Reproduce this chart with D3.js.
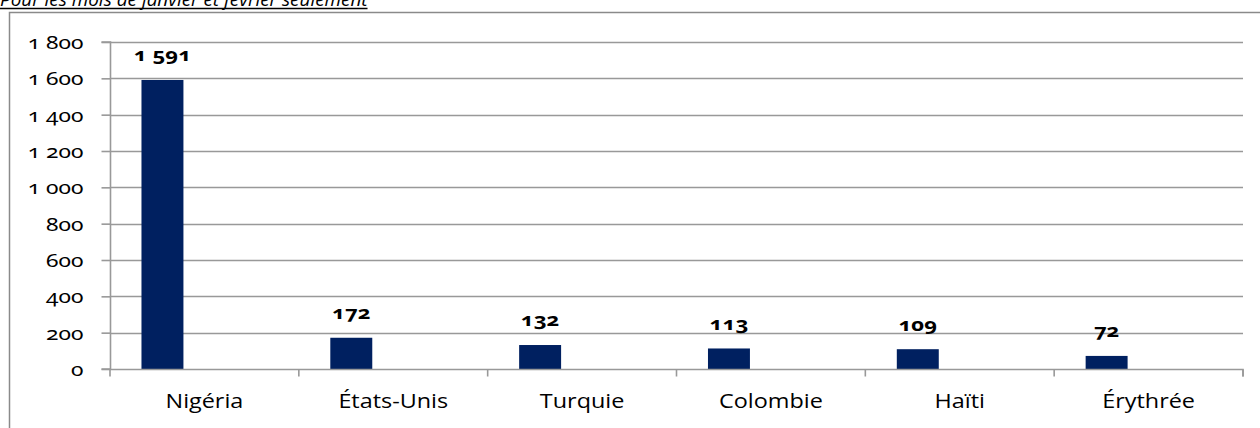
<!DOCTYPE html>
<html><head><meta charset="utf-8">
<script src="https://cdn.jsdelivr.net/npm/d3@7"></script>
<style>
html,body{margin:0;padding:0;background:#fff;}
svg{display:block;}
.num{font-variant-numeric:oldstyle-nums;font-feature-settings:"onum" 1;}
</style></head>
<body><svg id="c" width="1260" height="428"></svg>
<script>
const title = "Pour les mois de janvier et février seulement";
const categories = ["Nigéria","États-Unis","Turquie","Colombie","Haïti","Érythrée"];
const values = [1591,172,132,113,109,72];
const yTicks = [0,200,400,600,800,1000,1200,1400,1600,1800];
const seriesSlots = ["s1","s2","s3"];

(function(){
const svg = d3.select("#c");
const W = 1260, H = 428;
const pL = 110, pR = 1243, pT = 42, pB = 369;
const grid = "#999";
const numFont = "'Noto Sans', 'Open Sans', sans-serif";
const txtFont = "'Open Sans', 'Noto Sans', sans-serif";

// title (cropped at top)
const sxTi = 1.05;
const t = svg.append("text").attr("x", 0).attr("y", 5.5)
  .attr("font-family", txtFont).attr("font-style", "italic")
  .attr("font-size", 18).attr("fill", "#000")
  .attr("transform", `scale(${sxTi},1)`).text(title);
const tl = t.node().getComputedTextLength() * sxTi;
svg.append("line").attr("x1", 0).attr("x2", tl).attr("y1", 8.5).attr("y2", 8.5)
  .attr("stroke", "#000").attr("stroke-width", 1.5);

// chart border
svg.append("path").attr("d", `M9.5,${H} V12.5 H${W}`).attr("fill", "none")
  .attr("stroke", "#8a8a8a").attr("stroke-width", 1.5);

const x = d3.scaleBand().domain(categories).range([pL, pR]).paddingInner(0).paddingOuter(0);
const xs = d3.scaleBand().domain(seriesSlots).range([0, x.bandwidth()]).paddingInner(0).paddingOuter(0.75);
const y = d3.scaleLinear().domain([0, 1800]).range([pB, pT]);

const fmt = v => v >= 1000 ? Math.floor(v/1000) + " " + d3.format("03d")(v % 1000) : String(v);

// gridlines
svg.append("g").selectAll("line").data(yTicks.filter(d => d > 0)).join("line")
  .attr("x1", pL).attr("x2", pR)
  .attr("y1", d => Math.round(y(d)) + 0.5).attr("y2", d => Math.round(y(d)) + 0.5)
  .attr("stroke", grid).attr("stroke-width", 1.6);

// y axis
const sxT = 1.2;
const yAxis = d3.axisLeft(y).tickValues(yTicks).tickSize(9).tickPadding(18).tickFormat(fmt);
const gy = svg.append("g").attr("transform", `translate(${pL + 0.5},0)`).call(yAxis);
gy.select(".domain").attr("stroke", grid).attr("stroke-width", 1.6).attr("d", `M-9,${pB}H0V${pT}H-9`);
gy.selectAll(".tick line").attr("stroke", grid).attr("stroke-width", 1.6);
gy.selectAll(".tick text").attr("font-family", numFont)
  .attr("font-size", 19).attr("fill", "#000").attr("class", "num")
  .attr("x", -27 / sxT).attr("dy", "0.35em").attr("transform", `scale(${sxT},1)`);

// bars
svg.append("g").selectAll("rect").data(values).join("rect")
  .attr("x", (d, i) => x(categories[i]) + xs("s1"))
  .attr("width", xs.bandwidth())
  .attr("y", d => y(d)).attr("height", d => y(0) - y(d))
  .attr("fill", "#002060");

// x axis
const sxC = 1.2;
const xAxis = d3.axisBottom(x).tickSize(0).tickPadding(25);
const gx = svg.append("g").attr("transform", `translate(0,${pB + 0.5})`).call(xAxis);
gx.select(".domain").attr("stroke", grid).attr("stroke-width", 1.6)
  .attr("d", `M${pL},0H${pR}V7`);
gx.selectAll(".tick text").attr("font-family", txtFont)
  .attr("font-size", 19.5).attr("fill", "#000").attr("transform", `scale(${sxC},1)`);
const bounds = categories.map(c => x(c)).concat([pR]);
gx.append("g").selectAll("line").data(bounds).join("line")
  .attr("x1", d => d).attr("x2", d => d).attr("y1", 0).attr("y2", 7)
  .attr("stroke", grid).attr("stroke-width", 1.6);

// data labels
const sxL = 1.2;
const lg = svg.append("g").selectAll("g").data(values).join("g")
  .attr("transform", (d, i) => `translate(${x(categories[i]) + xs("s1") + xs.bandwidth() / 2},${y(d) - 25})`);
lg.append("text").attr("class", "num")
  .attr("dy", "0.35em").attr("transform", `scale(${sxL},1)`)
  .attr("text-anchor", "middle").attr("font-family", numFont)
  .attr("font-weight", "bold").attr("font-size", 18.5).attr("fill", "#000")
  .text(d => fmt(d));
})();
</script></body></html>
